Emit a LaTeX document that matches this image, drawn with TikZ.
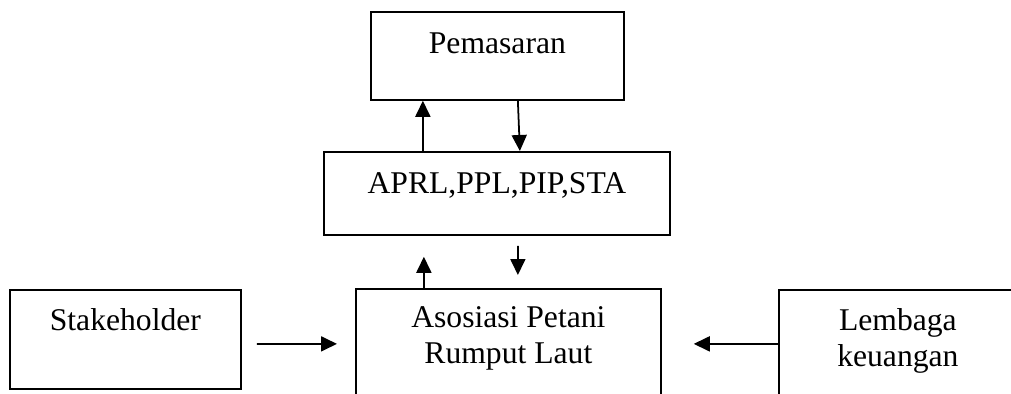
\documentclass[tikz,border=0pt]{standalone}
\usepackage{fontspec}
\setmainfont{Liberation Serif}
\usetikzlibrary{arrows.meta}

\begin{document}
\begin{tikzpicture}[
   box/.style={draw,line width=1pt,inner xsep=0pt,inner ysep=0pt,anchor=north west,align=center,
      font=\fontsize{18}{20.5}\selectfont},
   arr/.style={line width=1pt,-{Triangle[length=0.32cm,width=0.3cm]}}]
\useasboundingbox (0,0) rectangle (20.22,-7.88);
\clip (0,0) rectangle (20.22,-7.88);
   \node[box,minimum width=5.06cm,minimum height=1.76cm,text height=0.84cm,text depth=0.92cm] (pem) at (7.40,-0.22) {Pemasaran};
   \node[box,minimum width=6.92cm,minimum height=1.66cm,text height=0.84cm,text depth=0.82cm] (aprl) at (6.46,-3.02) {APRL,PPL,PIP,STA};
   \node[box,minimum width=6.10cm,minimum height=2.20cm,text height=1.50cm,text depth=0.70cm] (asos) at (7.10,-5.76) {Asosiasi Petani\\Rumput Laut};
   \node[box,minimum width=4.62cm,minimum height=1.98cm,text height=0.82cm,text depth=1.16cm] (stake) at (0.18,-5.78) {Stakeholder};
   \node[box,minimum width=4.76cm,minimum height=2.16cm,text height=1.54cm,text depth=0.62cm] (lemb) at (15.56,-5.78) {Lembaga\\keuangan};
% upper pair
   \draw[arr] ([xshift=-1.48cm]aprl.north) -- ([xshift=-1.49cm]pem.south);
   \draw[arr] ([xshift=0.41cm]pem.south) -- ([xshift=0.46cm]aprl.north);
% lower pair
   \draw[arr] ([xshift=-1.69cm]asos.north) -- ([xshift=-1.46cm,yshift=-0.42cm]aprl.south);
   \draw[arr] ([xshift=0.42cm,yshift=-0.2cm]aprl.south) -- ([xshift=0.19cm,yshift=0.26cm]asos.north);
% sides
   \draw[arr] ([xshift=0.3cm,yshift=-0.09cm]stake.east) -- ([xshift=-0.36cm]asos.west);
   \draw[arr] (lemb.west) -- ([xshift=0.64cm]asos.east);
\end{tikzpicture}
\end{document}
